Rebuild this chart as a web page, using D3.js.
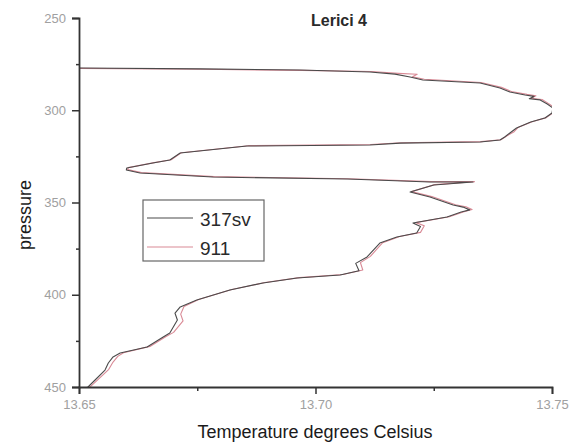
<!DOCTYPE html>
<html>
<head>
<meta charset="utf-8">
<script src="https://cdn.jsdelivr.net/npm/d3@7"></script>
<style>
  body { margin: 0; background: #fff; }
  svg { display: block; font-family: "Liberation Sans", Arial, sans-serif; }
</style>
</head>
<body>
<div id="chart"></div>
<script>
// chart title and axis labels
const chartTitle = "Lerici 4";
const xLabel = "Temperature degrees Celsius";
const yLabel = "pressure";

// tick values
const xTicks = [13.65, 13.70, 13.75];
const xMinorTicks = [13.675, 13.725];
const yTicks = [250, 300, 350, 400, 450];
const yMinorTicks = [275, 325, 375, 425];

// series 317sv
const temp317sv = [13.6500,13.6756,13.6967,13.7115,13.7168,13.7200,13.7227,13.7348,13.7390,13.7411,
  13.7443,13.7462,13.7452,13.7475,13.7490,13.7502,13.7500,13.7485,13.7455,13.7425,
  13.7411,13.7400,13.7390,13.7348,13.7179,13.7115,13.6855,13.6714,13.6692,13.6656,
  13.6601,13.6600,13.6629,13.6783,13.7067,13.7242,13.7333,13.7250,13.7200,13.7242,
  13.7291,13.7312,13.7326,13.7308,13.7278,13.7206,13.7222,13.7214,13.7172,13.7136,
  13.7109,13.7085,13.7092,13.7052,13.6961,13.6889,13.6819,13.6749,13.6714,13.6703,
  13.6708,13.6692,13.6678,13.6644,13.6587,13.6572,13.6562,13.6555,13.6534,13.6519,13.6505];
const pres317sv = [277.1,277.6,278.2,279.3,280.4,282.0,283.6,285.2,287.9,290.1,
  291.7,292.5,293.8,294.4,296.6,298.8,301.5,304.2,306.4,309.6,
  312.3,314.5,316.1,317.2,317.8,318.8,319.4,323.2,327.0,328.6,
  331.3,332.4,334.0,336.2,337.3,338.9,338.9,340.5,344.3,347.0,
  351.4,352.5,354.0,355.1,357.9,361.1,363.0,366.5,368.7,372.0,
  379.5,383.0,387.0,389.3,390.9,393.6,397.4,402.8,406.6,410.0,
  413.7,420.7,422.9,428.3,431.6,433.7,437.0,440.8,446.2,450.0,451.5];

// series 911
const temp911 = [13.6500,13.6760,13.6970,13.7118,13.7175,13.7215,13.7205,13.7230,13.7350,13.7393,
  13.7414,13.7447,13.7466,13.7456,13.7479,13.7493,13.7505,13.7503,13.7488,13.7458,
  13.7428,13.7420,13.7405,13.7392,13.7350,13.7181,13.7117,13.6858,13.6716,13.6695,
  13.6659,13.6604,13.6603,13.6632,13.6786,13.7070,13.7245,13.7336,13.7252,13.7203,
  13.7246,13.7296,13.7318,13.7331,13.7314,13.7283,13.7212,13.7230,13.7222,13.7178,
  13.7142,13.7116,13.7095,13.7100,13.7058,13.6966,13.6893,13.6823,13.6753,13.6722,
  13.6715,13.6720,13.6700,13.6684,13.6650,13.6594,13.6582,13.6572,13.6563,13.6540,13.6524,13.6509];
const pres911 = [277.3,277.8,278.4,279.0,280.0,280.5,281.8,283.2,285.0,287.6,
  289.8,291.4,292.2,293.5,294.2,296.4,298.6,301.3,304.0,306.2,
  309.4,311.6,313.8,316.0,317.0,317.6,318.6,319.2,323.0,326.8,
  328.4,331.1,332.2,333.8,336.0,337.1,338.7,338.7,340.3,344.1,
  346.8,351.2,352.3,353.8,355.0,357.7,360.9,362.6,366.2,368.4,
  371.8,379.2,382.6,386.6,389.0,390.7,393.4,397.2,402.6,406.4,
  410.5,414.2,420.4,422.6,428.0,431.4,433.4,436.5,440.4,446.0,449.8,451.3];

const seriesNames = ["317sv", "911"];
const seriesColors = ["#4a4a4a", "#d98a96"];

const width = 577, height = 447;
const margin = { top: 18, right: 25, bottom: 60, left: 79 };
const innerWidth = width - margin.left - margin.right;   // 473
const innerHeight = height - margin.top - margin.bottom; // 369

const svg = d3.select("#chart").append("svg")
  .attr("width", width)
  .attr("height", height);

const g = svg.append("g")
  .attr("transform", `translate(${margin.left},${margin.top})`);

const x = d3.scaleLinear().domain([13.65, 13.75]).range([0, innerWidth]);
const y = d3.scaleLinear().domain([250, 450]).range([0, innerHeight]);

// clip lines to plotting area
svg.append("defs").append("clipPath").attr("id", "plot-clip")
  .append("rect").attr("x", 0).attr("y", 0)
  .attr("width", innerWidth).attr("height", innerHeight);

const series = [
  { name: "911", temps: temp911, pres: pres911, color: seriesColors[1] },
  { name: "317sv", temps: temp317sv, pres: pres317sv, color: seriesColors[0] }
];

const line = d3.line()
  .x(d => x(d[0]))
  .y(d => y(d[1]));

g.append("g").attr("clip-path", "url(#plot-clip)")
  .selectAll("path")
  .data(series)
  .join("path")
  .attr("fill", "none")
  .attr("stroke", d => d.color)
  .attr("stroke-width", 1.1)
  .attr("stroke-linejoin", "round")
  .attr("d", d => line(d.temps.map((t, i) => [t, d.pres[i]])));

// --- axes ---
const axisColor = "#333";
const tickText = "#a0a0a0";

const yAxis = g.append("g")
  .call(d3.axisLeft(y).tickValues(yTicks).tickFormat(d3.format("d")).tickSize(7).tickPadding(6));
const yMinor = g.append("g")
  .call(d3.axisLeft(y).tickValues(yMinorTicks).tickFormat("").tickSize(3));

const xAxis = g.append("g")
  .attr("transform", `translate(0,${innerHeight})`)
  .call(d3.axisBottom(x).tickValues(xTicks).tickFormat(d3.format(".2f")).tickSize(7).tickPadding(6));
const xMinor = g.append("g")
  .attr("transform", `translate(0,${innerHeight})`)
  .call(d3.axisBottom(x).tickValues(xMinorTicks).tickFormat("").tickSize(4));

[yAxis, yMinor, xAxis, xMinor].forEach(a => {
  a.select(".domain").attr("stroke", axisColor).attr("stroke-width", 1.8);
  a.selectAll(".tick line").attr("stroke", axisColor).attr("stroke-width", 1.5);
  a.selectAll("text").attr("fill", tickText).style("font-size", "13px")
    .style("font-family", "Liberation Sans, Arial, sans-serif");
});
yMinor.select(".domain").remove();
xMinor.select(".domain").remove();

// --- title and axis labels ---
svg.append("text")
  .attr("x", 339).attr("y", 26)
  .attr("text-anchor", "middle")
  .attr("fill", "#2a2a2a")
  .style("font-size", "16px")
  .style("font-weight", "bold")
  .text(chartTitle);

svg.append("text")
  .attr("x", 315).attr("y", 438)
  .attr("text-anchor", "middle")
  .attr("fill", "#1a1a1a")
  .style("font-size", "18px")
  .text(xLabel);

svg.append("text")
  .attr("transform", `translate(31,215) rotate(-90)`)
  .attr("text-anchor", "middle")
  .attr("fill", "#1a1a1a")
  .style("font-size", "18px")
  .text(yLabel);

// --- legend ---
const legend = svg.append("g").attr("transform", "translate(143,200)");
legend.append("rect")
  .attr("width", 121).attr("height", 61)
  .attr("fill", "#fff")
  .attr("stroke", "#666").attr("stroke-width", 1.2);

const legendItems = legend.selectAll(".item")
  .data(seriesNames)
  .join("g")
  .attr("class", "item")
  .attr("transform", (d, i) => `translate(0,${18 + i * 29})`);

legendItems.append("line")
  .attr("x1", 4).attr("x2", 50)
  .attr("stroke", (d, i) => seriesColors[i])
  .attr("stroke-width", 1.2);

legendItems.append("text")
  .attr("x", 57).attr("y", 8)
  .attr("fill", "#2a2a2a")
  .style("font-size", "19px")
  .text(d => d);
</script>
</body>
</html>
